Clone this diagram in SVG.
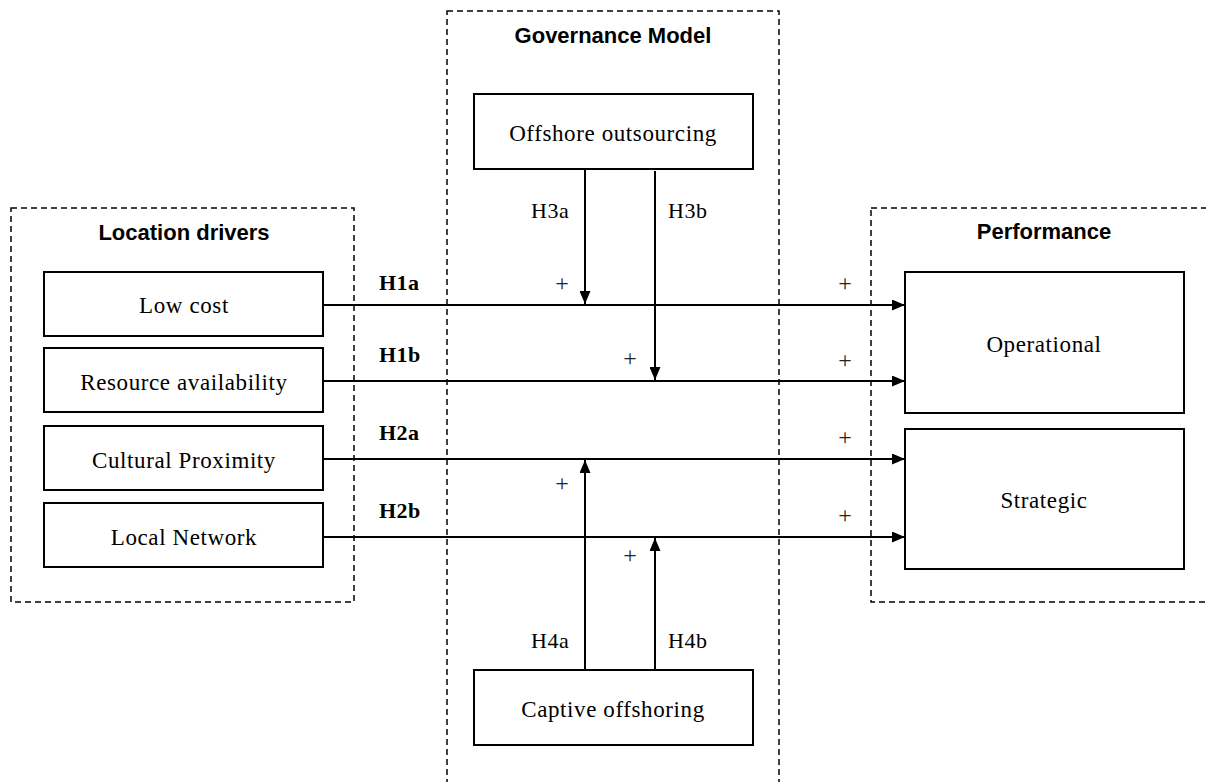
<svg xmlns="http://www.w3.org/2000/svg" width="1206" height="782" viewBox="0 0 1206 782">
  <defs>
    <marker id="arrow" viewBox="0 0 13 11" refX="13" refY="5.5" markerWidth="13" markerHeight="11" markerUnits="userSpaceOnUse" orient="auto">
      <path d="M0,0 L13,5.5 L0,11 Z" fill="#000"/>
    </marker>
    <style>
      .frame { fill: none; stroke: #000; stroke-width: 1.5; stroke-dasharray: 6 4; }
      .box { fill: #fff; stroke: #000; stroke-width: 2; }
      .title { font-family: "Liberation Sans", Arial, sans-serif; font-weight: bold; font-size: 22px; text-anchor: middle; fill: #000; }
      .lbl { font-family: "Liberation Serif", "Times New Roman", serif; font-size: 23px; letter-spacing: 0.6px; text-anchor: middle; fill: #000; }
      .hyp { font-family: "Liberation Serif", "Times New Roman", serif; font-size: 22px; letter-spacing: 0.5px; fill: #000; }
      .hypb { font-family: "Liberation Serif", "Times New Roman", serif; font-size: 22px; font-weight: bold; letter-spacing: 0.5px; fill: #000; }
      .plus { font-family: "Liberation Serif", "Times New Roman", serif; font-size: 24px; text-anchor: middle; fill: #222; }
      .link { fill: none; stroke: #000; stroke-width: 2; marker-end: url(#arrow); }
    </style>
  </defs>
  <rect width="1206" height="782" fill="#fff"/>

  <!-- dashed group frames -->
  <g id="frames">
    <rect class="frame" x="11" y="208" width="343" height="394"/>
    <rect class="frame" x="447" y="11" width="332" height="790"/>
    <rect class="frame" x="871" y="208" width="350" height="394"/>
    <text class="title" x="184" y="240">Location drivers</text>
    <text class="title" x="613" y="43">Governance Model</text>
    <text class="title" x="1044" y="239">Performance</text>
  </g>

  <!-- connectors -->
  <g id="connectors">
    <line class="link" x1="323" y1="305" x2="905" y2="305"/>
    <line class="link" x1="323" y1="381" x2="905" y2="381"/>
    <line class="link" x1="323" y1="459" x2="905" y2="459"/>
    <line class="link" x1="323" y1="537" x2="905" y2="537"/>
    <line class="link" x1="585" y1="169" x2="585" y2="304"/>
    <line class="link" x1="655" y1="171" x2="655" y2="380"/>
    <line class="link" x1="585" y1="670" x2="585" y2="460"/>
    <line class="link" x1="655" y1="670" x2="655" y2="538"/>
    <text class="hypb" x="379" y="290">H1a</text>
    <text class="hypb" x="379" y="362">H1b</text>
    <text class="hypb" x="379" y="440">H2a</text>
    <text class="hypb" x="379" y="518">H2b</text>
    <text class="hyp" x="531" y="218">H3a</text>
    <text class="hyp" x="668" y="218">H3b</text>
    <text class="hyp" x="531" y="648">H4a</text>
    <text class="hyp" x="668" y="648">H4b</text>
    <text class="plus" x="562" y="291">+</text>
    <text class="plus" x="630" y="366">+</text>
    <text class="plus" x="845" y="291">+</text>
    <text class="plus" x="845" y="368">+</text>
    <text class="plus" x="845" y="445">+</text>
    <text class="plus" x="845" y="523">+</text>
    <text class="plus" x="562" y="491">+</text>
    <text class="plus" x="630" y="563">+</text>
  </g>

  <!-- nodes -->
  <g id="low-cost">
    <rect class="box" x="44" y="272" width="279" height="64"/>
    <text class="lbl" x="184" y="313">Low cost</text>
  </g>
  <g id="resource-availability">
    <rect class="box" x="44" y="348" width="279" height="64"/>
    <text class="lbl" x="184" y="390">Resource availability</text>
  </g>
  <g id="cultural-proximity">
    <rect class="box" x="44" y="426" width="279" height="64"/>
    <text class="lbl" x="184" y="468">Cultural Proximity</text>
  </g>
  <g id="local-network">
    <rect class="box" x="44" y="503" width="279" height="64"/>
    <text class="lbl" x="184" y="545">Local Network</text>
  </g>
  <g id="offshore-outsourcing">
    <rect class="box" x="474" y="94" width="279" height="75"/>
    <text class="lbl" x="613" y="141">Offshore outsourcing</text>
  </g>
  <g id="captive-offshoring">
    <rect class="box" x="474" y="670" width="279" height="75"/>
    <text class="lbl" x="613" y="717">Captive offshoring</text>
  </g>
  <g id="operational">
    <rect class="box" x="905" y="272" width="279" height="141"/>
    <text class="lbl" x="1044" y="352">Operational</text>
  </g>
  <g id="strategic">
    <rect class="box" x="905" y="429" width="279" height="140"/>
    <text class="lbl" x="1044" y="508">Strategic</text>
  </g>
</svg>
